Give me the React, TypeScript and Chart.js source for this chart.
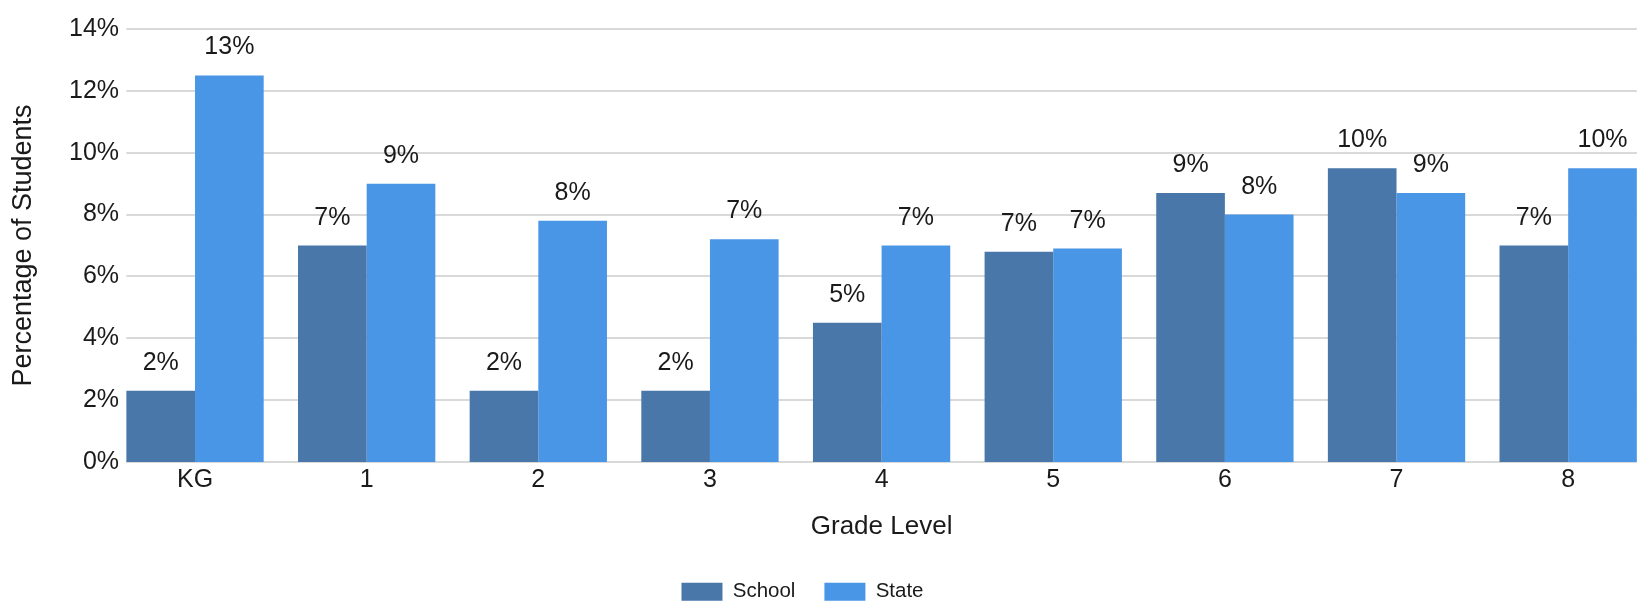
import React, { useEffect, useRef } from 'react';
import { Chart, registerables } from 'chart.js';

Chart.register(...registerables);

const categories = ['KG', '1', '2', '3', '4', '5', '6', '7', '8'];
const schoolValues = [2.3, 7.0, 2.3, 2.3, 4.5, 6.8, 8.7, 9.5, 7.0];
const stateValues = [12.5, 9.0, 7.8, 7.2, 7.0, 6.9, 8.0, 8.7, 9.5];
const seriesNames = ['School', 'State'];
const seriesColors = ['#4a77aa', '#4a96e6'];
const yMin = 0;
const yMax = 14;
const yStep = 2;

const FONT = "'Liberation Sans', Arial, sans-serif";
const TEXT = '#1a1a1a';

const gridPlugin = {
  id: 'barSpanGrid',
  beforeDatasetsDraw(chart: any) {
    const y = chart.scales.y;
    const ctx = chart.ctx;
    const firstMeta = chart.getDatasetMeta(0);
    const lastMeta = chart.getDatasetMeta(chart.data.datasets.length - 1);
    const first = firstMeta.data[0];
    const last = lastMeta.data[lastMeta.data.length - 1];
    if (!first || !last) return;
    const x0 = first.x - first.width / 2;
    const x1 = last.x + last.width / 2;
    ctx.save();
    ctx.strokeStyle = '#d9d9d9';
    ctx.lineWidth = 2;
    y.ticks.forEach((t: any) => {
      const py = Math.round(y.getPixelForValue(t.value));
      ctx.beginPath();
      ctx.moveTo(x0, py);
      ctx.lineTo(x1, py);
      ctx.stroke();
    });
    ctx.restore();
  },
};

const labelPlugin = {
  id: 'barValueLabels',
  afterDatasetsDraw(chart: any) {
    const ctx = chart.ctx;
    ctx.save();
    ctx.font = `25px ${FONT}`;
    ctx.fillStyle = TEXT;
    ctx.textAlign = 'center';
    ctx.textBaseline = 'alphabetic';
    chart.data.datasets.forEach((ds: any, di: number) => {
      const meta = chart.getDatasetMeta(di);
      meta.data.forEach((el: any, i: number) => {
        const v = ds.data[i];
        ctx.fillText(`${Math.round(v)}%`, el.x, el.y - 21);
      });
    });
    ctx.restore();
  },
};

export default function App() {
  const ref = useRef<HTMLCanvasElement | null>(null);

  useEffect(() => {
    if (!ref.current) return;
    const chart = new Chart(ref.current, {
      type: 'bar',
      data: {
        labels: categories,
        datasets: [
          {
            label: seriesNames[0],
            data: schoolValues,
            backgroundColor: seriesColors[0],
            borderWidth: 0,
            categoryPercentage: 0.8,
            barPercentage: 1.0,
          },
          {
            label: seriesNames[1],
            data: stateValues,
            backgroundColor: seriesColors[1],
            borderWidth: 0,
            categoryPercentage: 0.8,
            barPercentage: 1.0,
          },
        ],
      },
      options: {
        responsive: false,
        animation: false,
        devicePixelRatio: 1,
        layout: { padding: { top: 29, left: 0, right: 0, bottom: 0 } },
        plugins: {
          legend: {
            position: 'bottom',
            align: 'center',
            labels: {
              boxWidth: 41,
              boxHeight: 18,
              padding: 29,
              color: TEXT,
              font: { family: FONT, size: 20.5 },
            },
          },
          tooltip: { enabled: false },
        },
        scales: {
          x: {
            type: 'category',
            offset: true,
            grid: { display: false, drawTicks: false },
            border: { display: false },
            ticks: {
              color: TEXT,
              font: { family: FONT, size: 25 },
              padding: 3,
              maxRotation: 0,
              autoSkip: false,
            },
            title: {
              display: true,
              text: 'Grade Level',
              color: TEXT,
              font: { family: FONT, size: 26 },
              padding: { top: 0, bottom: 10 },
            },
            afterFit: (scale: any) => {
              scale.height = 90.5;
            },
          },
          y: {
            min: yMin,
            max: yMax,
            grid: { display: false, drawTicks: false },
            border: { display: false },
            ticks: {
              stepSize: yStep,
              color: TEXT,
              font: { family: FONT, size: 25 },
              mirror: true,
              crossAlign: 'far',
              padding: -40.2,
              callback: (v: any) => `${v}%`,
            },
            title: {
              display: true,
              text: 'Percentage of Students',
              color: TEXT,
              font: { family: FONT, size: 27 },
              padding: { top: 56, bottom: 0 },
            },
            afterFit: (scale: any) => {
              scale.width = 158.2;
            },
          },
        },
      },
      plugins: [gridPlugin, labelPlugin],
    });
    return () => chart.destroy();
  }, []);

  return (
    <div
      style={{
        position: 'fixed',
        left: 0,
        top: 0,
        width: 1637,
        height: 605,
        overflow: 'hidden',
        background: '#ffffff',
      }}
    >
      <canvas
        ref={ref}
        width={1703}
        height={612}
        style={{ position: 'absolute', left: -49, top: 0, display: 'block' }}
      />
    </div>
  );
}
